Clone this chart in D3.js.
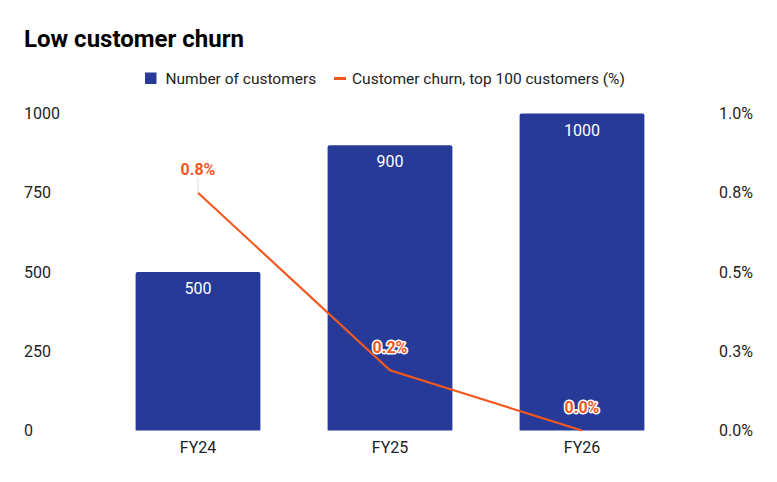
<!DOCTYPE html>
<html>
<head>
<meta charset="utf-8">
<script src="https://cdn.jsdelivr.net/npm/d3@7"></script>
<style>
  body { margin: 0; background: #fff; }
  svg { font-family: Roboto, "Noto Sans", sans-serif; }
</style>
</head>
<body>
<svg width="777" height="482"></svg>
<script>
const years = ["FY24", "FY25", "FY26"];
const customers = [500, 900, 1000];
const churn = [0.75, 0.19, 0.0];
const leftTicks = [0, 250, 500, 750, 1000];
const rightTicks = [0, 0.25, 0.5, 0.75, 1.0];
const rightTickLabels = ["0.0%", "0.3%", "0.5%", "0.8%", "1.0%"];
const churnLabels = ["0.8%", "0.2%", "0.0%"];

const blue = "#283a97";
const orange = "#f4581e";

const svg = d3.select("svg");

const x = d3.scaleBand()
    .domain(years)
    .range([102, 678])
    .paddingInner(0.35)
    .paddingOuter(0.175);

const yLeft = d3.scaleLinear().domain([0, 1000]).range([430.5, 113.5]);
const yRight = d3.scaleLinear().domain([0, 1]).range([430.5, 113.5]);

// title
svg.append("text")
    .attr("x", 24)
    .attr("y", 47)
    .attr("font-size", 24)
    .attr("font-weight", "bold")
    .attr("fill", "#000")
    .text("Low customer churn");

// legend
const legend = svg.append("g").attr("font-size", 15.5).attr("fill", "#222");
legend.append("rect")
    .attr("x", 145).attr("y", 72.5)
    .attr("width", 11.5).attr("height", 11.5)
    .attr("fill", blue);
legend.append("text")
    .attr("x", 165.5).attr("y", 84)
    .text("Number of customers");
legend.append("rect")
    .attr("x", 334).attr("y", 77)
    .attr("width", 12).attr("height", 3)
    .attr("fill", orange);
legend.append("text")
    .attr("x", 352).attr("y", 84)
    .text("Customer churn, top 100 customers (%)");

// axes
const leftAxis = svg.append("g")
    .attr("transform", "translate(24,0)")
    .call(d3.axisLeft(yLeft).tickValues(leftTicks).tickSize(0).tickPadding(0)
        .tickFormat(d3.format("d")));
leftAxis.select(".domain").remove();
leftAxis.selectAll("text")
    .attr("text-anchor", "start")
    .attr("font-family", "Roboto")
    .attr("font-size", 16)
    .attr("fill", "#222");

const rightAxis = svg.append("g")
    .attr("transform", "translate(719,0)")
    .call(d3.axisRight(yRight).tickValues(rightTicks).tickSize(0).tickPadding(0)
        .tickFormat((d, i) => rightTickLabels[i]));
rightAxis.select(".domain").remove();
rightAxis.selectAll("text")
    .attr("font-family", "Roboto")
    .attr("font-size", 16)
    .attr("fill", "#222");

const xAxis = svg.append("g")
    .attr("transform", "translate(0,430.5)")
    .call(d3.axisBottom(x).tickSize(0).tickPadding(11));
xAxis.select(".domain").remove();
xAxis.selectAll("text")
    .attr("font-family", "Roboto")
    .attr("font-size", 16)
    .attr("fill", "#222");

// bars with slightly rounded tops
const r = 2;
svg.selectAll(".bar")
    .data(customers)
    .enter()
    .append("path")
    .attr("class", "bar")
    .attr("fill", blue)
    .attr("d", (d, i) => {
        const x0 = x(years[i]), x1 = x0 + x.bandwidth();
        const y0 = yLeft(0), y1 = yLeft(d);
        return `M${x0},${y0}V${y1 + r}Q${x0},${y1} ${x0 + r},${y1}H${x1 - r}Q${x1},${y1} ${x1},${y1 + r}V${y0}Z`;
    });

svg.selectAll(".bar-label")
    .data(customers)
    .enter()
    .append("text")
    .attr("class", "bar-label")
    .attr("x", (d, i) => x(years[i]) + x.bandwidth() / 2)
    .attr("y", d => yLeft(d) + 22)
    .attr("text-anchor", "middle")
    .attr("font-size", 16)
    .attr("fill", "#fff")
    .text(d => d);

// churn line
const cx = (d, i) => x(years[i]) + x.bandwidth() / 2;
const line = d3.line()
    .x(cx)
    .y(d => yRight(d));

svg.append("path")
    .datum(churn)
    .attr("fill", "none")
    .attr("stroke", orange)
    .attr("stroke-width", 2.2)
    .attr("d", line);

// leader lines where the label sits above the bar
svg.selectAll(".leader")
    .data(churn)
    .enter()
    .filter((d, i) => yRight(d) < yLeft(customers[i]))
    .append("line")
    .attr("class", "leader")
    .attr("x1", cx).attr("x2", cx)
    .attr("y1", d => yRight(d) - 15)
    .attr("y2", d => yRight(d))
    .attr("stroke", "#ddd")
    .attr("stroke-width", 1);

svg.selectAll(".churn-label")
    .data(churn)
    .enter()
    .append("text")
    .attr("class", "churn-label")
    .attr("x", cx)
    .attr("y", d => yRight(d) - 17.5)
    .attr("text-anchor", "middle")
    .attr("font-size", 16)
    .attr("font-weight", "bold")
    .attr("fill", orange)
    .attr("stroke", "#fff")
    .attr("stroke-width", 3)
    .attr("stroke-linejoin", "round")
    .attr("paint-order", "stroke")
    .text((d, i) => churnLabels[i]);
</script>
</body>
</html>
